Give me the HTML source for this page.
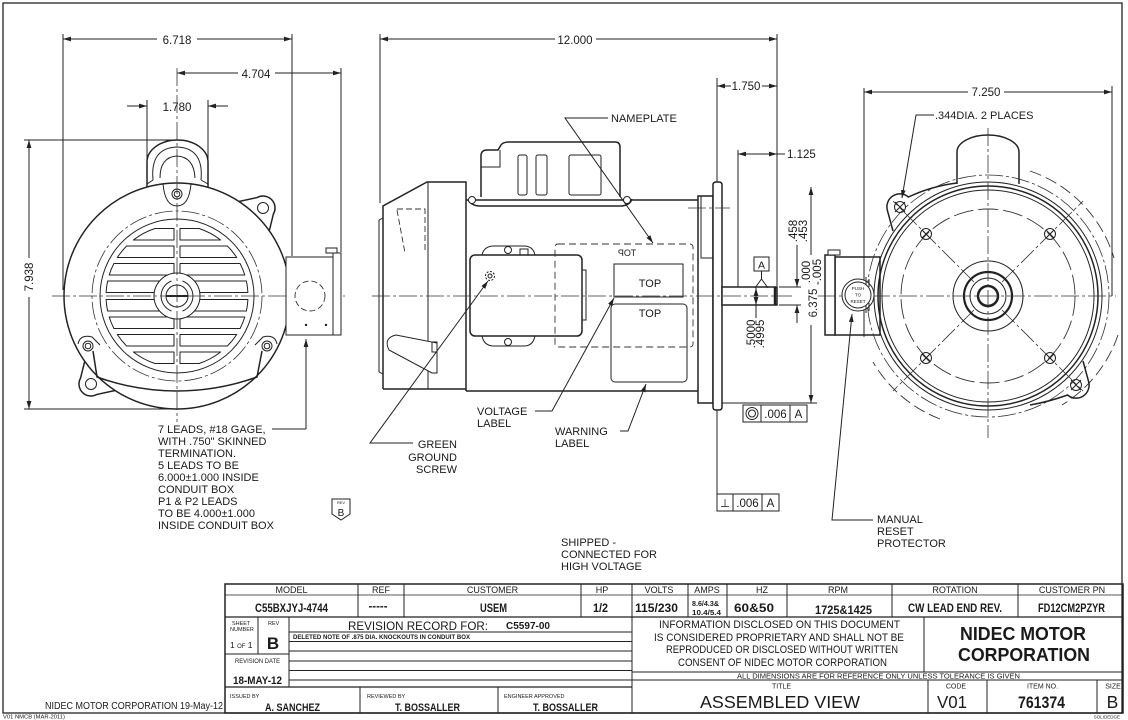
<!DOCTYPE html>
<html><head><meta charset="utf-8"><style>
html,body{margin:0;padding:0;background:#fff;}
svg{display:block;}
.l{stroke:#222;stroke-width:1;fill:none;}
.w{stroke:#222;stroke-width:1;fill:#fff;}
.t{stroke:#222;stroke-width:1.5;fill:none;}
.tw{stroke:#222;stroke-width:1.5;fill:#fff;}
.c{stroke:#333;stroke-width:0.8;fill:none;stroke-dasharray:18 3 3 3;}
.d{stroke:#333;stroke-width:0.9;fill:none;stroke-dasharray:6 3;}
text{font-family:"Liberation Sans",Arial,sans-serif;fill:#1a1a1a;}
.dt{font-size:11.5px;}
.lb{font-size:11px;}
.h{font-size:9px;text-anchor:middle;}
.v{font-size:11.5px;font-weight:bold;text-anchor:middle;}
.s{font-size:5.5px;}
</style></head><body>
<svg width="1128" height="720" viewBox="0 0 1128 720" xmlns="http://www.w3.org/2000/svg">
<defs>
<marker id="a" markerUnits="userSpaceOnUse" markerWidth="9" markerHeight="6" refX="8" refY="3" orient="auto-start-reverse"><path d="M0,0.6 L8,3 L0,5.4z" fill="#222"/></marker>
</defs>
<rect x="0" y="0" width="1128" height="720" fill="#fff"/>
<rect x="3" y="3" width="1119" height="710" fill="none" stroke="#222" stroke-width="1.3"/>

<!-- ================= LEFT VIEW ================= -->
<line class="l" x1="63" y1="34" x2="63" y2="290"/>
<line class="l" x1="292" y1="34" x2="292" y2="256"/>
<line class="l" x1="157" y1="39" x2="63" y2="39" marker-end="url(#a)"/>
<line class="l" x1="197" y1="39" x2="292" y2="39" marker-end="url(#a)"/>
<text class="dt" x="177" y="44" text-anchor="middle">6.718</text>
<line class="l" x1="341" y1="68" x2="341" y2="252"/>
<line class="l" x1="238" y1="73" x2="177" y2="73" marker-end="url(#a)"/>
<line class="l" x1="275" y1="73" x2="341" y2="73" marker-end="url(#a)"/>
<text class="dt" x="256" y="78" text-anchor="middle">4.704</text>
<line class="l" x1="147" y1="100" x2="147" y2="162"/>
<line class="l" x1="208" y1="100" x2="208" y2="162"/>
<line class="l" x1="127" y1="106" x2="147" y2="106" marker-end="url(#a)"/>
<line class="l" x1="228" y1="106" x2="208" y2="106" marker-end="url(#a)"/>
<text class="dt" x="177" y="111" text-anchor="middle">1.780</text>
<line class="l" x1="24" y1="140" x2="175" y2="140"/>
<line class="l" x1="24" y1="409" x2="175" y2="409"/>
<line class="l" x1="29" y1="258" x2="29" y2="140" marker-end="url(#a)"/>
<line class="l" x1="29" y1="297" x2="29" y2="409" marker-end="url(#a)"/>
<text class="dt" transform="translate(33,277) rotate(-90)" text-anchor="middle">7.938</text>

<path class="tw" d="M232 203 L257 197.6 A12 12 0 0 1 273.4 214 L268 236"/>
<path class="tw" d="M122 389 L97 394.4 A12 12 0 0 1 80.6 378 L86 356"/>
<path class="tw" d="M147 192 L147 162 A30.5 22 0 0 1 208 162 L208 192"/>
<circle class="tw" cx="177" cy="296" r="113"/>
<circle class="l" cx="263" cy="208" r="5.5"/>
<circle class="l" cx="91" cy="384" r="5.5"/>
<path class="l" d="M153 180 Q150 148 177 147 Q204 148 201 180"/>
<path class="l" d="M160 178 Q160 157 177 156 Q194 157 195 178"/>
<path class="l" d="M147 184 L153 180 M208 184 L201 180"/>
<path class="l" d="M163 184 Q165 206 177 206 Q189 206 191 184"/>
<circle class="l" cx="177" cy="194" r="5"/><circle class="l" cx="177" cy="194" r="2.8"/>
<circle class="l" cx="88" cy="346" r="5"/><circle class="l" cx="88" cy="346" r="2.8"/>
<circle class="l" cx="267" cy="346" r="5"/><circle class="l" cx="267" cy="346" r="2.8"/>
<path class="l" d="M78 344 Q80 334 92 337 L100 345"/>
<path class="l" d="M277 344 Q275 334 263 337 L255 345"/>
<path class="t" d="M93 351 L97 377 A236 236 0 0 0 257 377 L262 351"/>
<circle class="c" cx="177" cy="296" r="85"/>
<circle class="l" cx="177" cy="296" r="77"/>
<g class="l" stroke-linejoin="round">
<path d="M174 228.5 L155 228.5 A71 71 0 0 0 133.4 240 L174 240Z"/>
<path d="M174 246 L126.6 246 A71 71 0 0 0 117.3 257.5 L174 257.5Z"/>
<path d="M174 263.5 L113.9 263.5 A71 71 0 0 0 109.2 275 L174 275Z"/>
<path d="M174 281 L107.6 281 A71 71 0 0 0 106.1 292.5 L174 292.5Z"/>
<path d="M174 299.5 L106.1 299.5 A71 71 0 0 0 107.6 311 L174 311Z"/>
<path d="M174 317 L109.2 317 A71 71 0 0 0 113.9 328.5 L174 328.5Z"/>
<path d="M174 334.5 L117.3 334.5 A71 71 0 0 0 126.6 346 L174 346Z"/>
<path d="M174 352 L133.4 352 A71 71 0 0 0 155 363.5 L174 363.5Z"/>
<path d="M180 228.5 L199 228.5 A71 71 0 0 1 220.6 240 L180 240Z"/>
<path d="M180 246 L227.4 246 A71 71 0 0 1 236.7 257.5 L180 257.5Z"/>
<path d="M180 263.5 L240.1 263.5 A71 71 0 0 1 244.8 275 L180 275Z"/>
<path d="M180 281 L246.4 281 A71 71 0 0 1 247.9 292.5 L180 292.5Z"/>
<path d="M180 299.5 L247.9 299.5 A71 71 0 0 1 246.4 311 L180 311Z"/>
<path d="M180 317 L244.8 317 A71 71 0 0 1 240.1 328.5 L180 328.5Z"/>
<path d="M180 334.5 L236.7 334.5 A71 71 0 0 1 227.4 346 L180 346Z"/>
<path d="M180 352 L220.6 352 A71 71 0 0 1 199 363.5 L180 363.5Z"/>
</g>
<circle class="w" cx="177" cy="296" r="23"/>
<path class="l" d="M171.5 281 A16 16 0 0 0 171.5 311 M182.5 281 A16 16 0 0 1 182.5 311"/>
<circle class="l" cx="177" cy="296" r="11"/>
<line x1="166" y1="296" x2="188" y2="296" stroke="#222" stroke-width="2"/>
<line class="c" x1="52" y1="296" x2="345" y2="296"/>
<line class="c" x1="177" y1="68" x2="177" y2="422"/>
<rect class="w" x="286" y="257" width="47" height="78"/>
<rect class="w" x="333" y="253" width="8" height="82"/>
<rect class="w" x="326" y="248" width="11" height="5"/>
<circle class="d" cx="310" cy="296" r="15"/>
<circle cx="306" cy="325" r="1.2" fill="#222"/><circle cx="326" cy="325" r="1.2" fill="#222"/>
<line class="l" x1="306" y1="429" x2="306" y2="339" marker-end="url(#a)"/>
<line class="l" x1="272" y1="429" x2="306" y2="429"/>
<g class="lb">
<text x="158" y="433">7 LEADS, #18 GAGE,</text>
<text x="158" y="445">WITH .750" SKINNED</text>
<text x="158" y="457">TERMINATION.</text>
<text x="158" y="469">5 LEADS TO BE</text>
<text x="158" y="481">6.000±1.000 INSIDE</text>
<text x="158" y="493">CONDUIT BOX</text>
<text x="158" y="505">P1 &amp; P2 LEADS</text>
<text x="158" y="517">TO BE 4.000±1.000</text>
<text x="158" y="529">INSIDE CONDUIT BOX</text>
</g>
<path class="l" d="M332 499 L350 499 L350 514 L341 520 L332 514 Z"/>
<text x="341" y="504" font-size="4" text-anchor="middle">REV</text>
<text x="341" y="516" font-size="10" text-anchor="middle">B</text>

<!-- ================= MIDDLE VIEW ================= -->
<line class="l" x1="380" y1="34" x2="380" y2="203"/>
<line class="l" x1="777" y1="34" x2="777" y2="286"/>
<line class="l" x1="555" y1="39" x2="380" y2="39" marker-end="url(#a)"/>
<line class="l" x1="596" y1="39" x2="777" y2="39" marker-end="url(#a)"/>
<text class="dt" x="575" y="44" text-anchor="middle">12.000</text>

<path class="t" d="M383 389 L383 206 L427 182 L466 182 L466 391"/>
<path class="t" d="M383 389 L466 389"/>
<path class="l" d="M383 218 L379 220 L379 372 L383 374"/>
<line class="l" x1="428" y1="182" x2="428" y2="389"/>
<path class="d" d="M397 209 L425 209 L425 253 M397 210 L405 253"/>
<path class="w" d="M396 335 Q383 338 389 350 L432 373 L437 373 L437 343 Z"/>
<rect class="l" x="432" y="342" width="5" height="10"/>
<line class="t" x1="466" y1="200" x2="698" y2="200"/>
<line class="t" x1="466" y1="391" x2="698" y2="391"/>
<path class="t" d="M481 197 L481 156 Q481 150 487 150 L498 150 L501 145 Q503 142 509 142 L615 142 Q620 142 620 147 L620 197"/>
<path class="l" d="M481 167 L500 167 L500 150"/>
<rect class="l" x="518" y="155" width="9" height="40" rx="2"/>
<rect class="l" x="536" y="155" width="11" height="40" rx="2"/>
<rect class="l" x="569" y="155" width="32" height="40" rx="2"/>
<path class="t" d="M468 200 Q472 206 480 206 L622 206 Q630 205 632 199"/>
<circle class="w" cx="472" cy="200" r="3.5"/><circle class="w" cx="627" cy="200" r="3.5"/>
<path class="w" d="M482 255 Q484 246 494 246 L524 246 Q533 246 535 255"/>
<path class="w" d="M482 336 Q484 346 494 346 L524 346 Q533 346 535 336"/>
<rect class="tw" x="470" y="255" width="112" height="81" rx="5"/>
<circle class="w" cx="508" cy="250" r="3.5"/><circle class="w" cx="508" cy="342" r="3.5"/>
<rect class="l" x="520" y="249" width="8" height="6"/>
<rect class="l" x="582" y="270" width="4" height="50"/>
<circle class="l" cx="490" cy="276" r="4.5" stroke-dasharray="2 1.5"/><circle class="l" cx="490" cy="276" r="2"/>
<rect class="d" x="555" y="244" width="138" height="103" rx="3" style="stroke-dasharray:7 4"/>
<text transform="translate(627,256) scale(-1,1)" font-size="9" text-anchor="middle" font-family="Liberation Serif,serif">TOP</text>
<rect class="l" x="614" y="264" width="69" height="33"/>
<text class="lb" x="650" y="287" text-anchor="middle">TOP</text>
<rect class="l" x="611" y="304" width="76" height="78" rx="4"/>
<text class="lb" x="650" y="317" text-anchor="middle">TOP</text>
<rect class="tw" x="698" y="196" width="15" height="207"/>
<rect class="l" x="701" y="196" width="12" height="62"/>
<path class="tw" d="M713 185 Q713 182 716 182 L719 182 Q722 182 722 185 L722 407 Q722 410 719 410 L716 410 Q713 410 713 407 Z"/>
<line class="c" x1="688" y1="208" x2="730" y2="208"/>
<rect class="tw" x="722" y="287" width="55" height="18"/>
<line x1="775" y1="287" x2="775" y2="305" stroke="#222" stroke-width="2.5"/>
<line class="c" x1="372" y1="296" x2="792" y2="296"/>
<line class="l" x1="717" y1="78" x2="717" y2="182"/>
<line class="l" x1="717" y1="410" x2="717" y2="494"/>
<line class="l" x1="731" y1="86" x2="717" y2="86" marker-end="url(#a)"/>
<line class="l" x1="762" y1="86" x2="777" y2="86" marker-end="url(#a)"/>
<text class="dt" x="746" y="90" text-anchor="middle">1.750</text>
<line class="l" x1="738" y1="150" x2="738" y2="287"/>
<line class="l" x1="738" y1="154" x2="777" y2="154" marker-start="url(#a)" marker-end="url(#a)"/>
<line class="l" x1="777" y1="154" x2="785" y2="154"/>
<text class="dt" x="787" y="158">1.125</text>
<rect class="w" x="754" y="257" width="15" height="14"/>
<text x="761.5" y="268.5" font-size="10.5" text-anchor="middle">A</text>
<path class="l" d="M761.5 271 L761.5 279 M755 288 L761.5 279 L768 288"/>
<line class="l" x1="756" y1="318" x2="756" y2="288" marker-end="url(#a)"/>
<line class="l" x1="756" y1="296" x2="756" y2="305" marker-end="url(#a)"/>
<text class="dt" transform="translate(755,334) rotate(-90)" text-anchor="middle">.5000</text>
<text class="dt" transform="translate(764,334) rotate(-90)" text-anchor="middle">.4995</text>
<line class="l" x1="779" y1="287" x2="801" y2="287"/>
<line class="l" x1="779" y1="305" x2="801" y2="305"/>
<line class="l" x1="797" y1="245" x2="797" y2="287" marker-end="url(#a)"/>
<line class="l" x1="797" y1="323" x2="797" y2="305" marker-end="url(#a)"/>
<text class="dt" transform="translate(797,231) rotate(-90)" text-anchor="middle">.458</text>
<text class="dt" transform="translate(807,231) rotate(-90)" text-anchor="middle">.453</text>
<line class="l" x1="811" y1="255" x2="811" y2="187" marker-end="url(#a)"/>
<line class="l" x1="811" y1="325" x2="811" y2="403" marker-end="url(#a)"/>
<line class="l" x1="722" y1="403" x2="817" y2="403"/>
<text class="dt" transform="translate(810,272) rotate(-90)" text-anchor="middle">.000</text>
<text class="dt" transform="translate(821,272) rotate(-90)" text-anchor="middle">-.005</text>
<text class="dt" transform="translate(817,303) rotate(-90)" text-anchor="middle">6.375</text>
<rect class="l" x="743" y="405" width="64" height="17"/>
<line class="l" x1="761" y1="405" x2="761" y2="422"/><line class="l" x1="790" y1="405" x2="790" y2="422"/>
<circle class="l" cx="752" cy="413.5" r="6"/><circle class="l" cx="752" cy="413.5" r="3.5"/>
<text class="dt" x="775.5" y="418" text-anchor="middle">.006</text>
<text class="dt" x="798.5" y="418" text-anchor="middle">A</text>
<rect class="l" x="717" y="494" width="62" height="17"/>
<line class="l" x1="733" y1="494" x2="733" y2="511"/><line class="l" x1="762" y1="494" x2="762" y2="511"/>
<text class="dt" x="725" y="507" text-anchor="middle">⊥</text>
<text class="dt" x="747.5" y="507" text-anchor="middle">.006</text>
<text class="dt" x="770.5" y="507" text-anchor="middle">A</text>
<path class="l" d="M608 118 L565 118 L653 243" marker-end="url(#a)"/>
<text class="lb" x="611" y="122">NAMEPLATE</text>
<path class="l" d="M535 411 L552 411 Q580 360 614 298" marker-end="url(#a)"/>
<text class="lb" x="477" y="415">VOLTAGE</text><text class="lb" x="477" y="427">LABEL</text>
<path class="l" d="M620 431 L628 431 L646 384" marker-end="url(#a)"/>
<text class="lb" x="555" y="435">WARNING</text><text class="lb" x="555" y="447">LABEL</text>
<path class="l" d="M413 443 L370 443 L488 281" marker-end="url(#a)"/>
<text class="lb" x="457" y="448" text-anchor="end">GREEN</text>
<text class="lb" x="457" y="461" text-anchor="end">GROUND</text>
<text class="lb" x="457" y="473" text-anchor="end">SCREW</text>
<text class="lb" x="561" y="546">SHIPPED -</text>
<text class="lb" x="561" y="558">CONNECTED FOR</text>
<text class="lb" x="561" y="570">HIGH VOLTAGE</text>

<!-- ================= RIGHT VIEW ================= -->
<line class="l" x1="1112" y1="86" x2="1112" y2="296"/>
<line class="l" x1="968" y1="92" x2="864" y2="92" marker-end="url(#a)"/>
<line class="l" x1="1004" y1="92" x2="1112" y2="92" marker-end="url(#a)"/>
<text class="dt" x="986" y="96" text-anchor="middle">7.250</text>
<!-- conduit box right (behind circles) -->
<rect class="tw" x="835" y="257" width="45" height="78"/>
<rect class="tw" x="825" y="255" width="10" height="80"/>
<rect class="w" x="828" y="250" width="12" height="5"/>
<line class="l" x1="864" y1="88" x2="864" y2="337"/>
<!-- outer hidden arcs -->
<path class="d" d="M1030 171 A132 132 0 0 1 1114 258" style="stroke-dasharray:12 5"/>
<path class="d" d="M1118 335 A132 132 0 0 1 1062 405" style="stroke-dasharray:12 5"/>
<path class="d" d="M940 419 A132 132 0 0 1 873 362" style="stroke-dasharray:12 5"/>
<circle class="c" cx="988" cy="296" r="121"/>
<!-- ears + hump -->
<path class="t" d="M957 183 Q932 186 908.4 197 A13 13 0 0 0 887.4 210.4 L893 231"/>
<path class="t" d="M1030 405 Q1048 402 1067.6 395 A13 13 0 0 0 1088.6 381.6 L1083 361"/>
<path class="t" d="M957 184 L957 152 A31 17 0 0 1 1019 152 L1019 184"/>
<circle class="l" cx="988" cy="296" r="114"/>
<circle class="t" cx="988" cy="296" r="110"/>
<circle class="l" cx="988" cy="296" r="106"/>
<circle class="l" cx="900" cy="207" r="5.5"/>
<circle class="l" cx="1076" cy="385" r="5.5"/>
<path class="l" d="M895 202 L905 212 M905 202 L895 212 M1071 380 L1081 390 M1081 380 L1071 390"/>
<circle class="d" cx="988" cy="296" r="87" style="stroke-dasharray:20 5"/>
<line class="c" x1="974" y1="282" x2="893" y2="201"/>
<line class="c" x1="1002" y1="282" x2="1083" y2="201"/>
<line class="c" x1="974" y1="310" x2="893" y2="391"/>
<line class="c" x1="1002" y1="310" x2="1083" y2="391"/>
<g class="l">
<circle cx="926" cy="234" r="5.5"/><circle cx="1050" cy="234" r="5.5"/>
<circle cx="926" cy="358" r="5.5"/><circle cx="1050" cy="358" r="5.5"/>
<path d="M922 230 L930 238 M930 230 L922 238 M1046 230 L1054 238 M1054 230 L1046 238 M922 354 L930 362 M930 354 L922 362 M1046 354 L1054 362 M1054 354 L1046 362"/>
</g>
<circle class="l" cx="988" cy="296" r="35"/>
<circle cx="988" cy="296" r="24" fill="none" stroke="#222" stroke-width="2.2"/>
<circle class="l" cx="988" cy="296" r="18"/>
<circle cx="988" cy="296" r="10" fill="none" stroke="#222" stroke-width="2.5"/>
<line class="c" x1="818" y1="296" x2="1116" y2="296"/>
<line class="c" x1="988" y1="128" x2="988" y2="438"/>
<circle class="w" cx="858" cy="295" r="16"/>
<circle class="l" cx="858" cy="295" r="13"/>
<path class="l" d="M866 277 L866 285 M869 279 L869 287 M866 305 L866 313 M869 303 L869 311"/>
<text x="858" y="290" font-size="4.5" text-anchor="middle">PUSH</text>
<text x="858" y="296.5" font-size="4.5" text-anchor="middle">TO</text>
<text x="858" y="303" font-size="4.5" text-anchor="middle">RESET</text>
<path class="l" d="M873 520 L832 520 L852 314" marker-end="url(#a)"/>
<text class="lb" x="877" y="523">MANUAL</text>
<text class="lb" x="877" y="535">RESET</text>
<text class="lb" x="877" y="547">PROTECTOR</text>
<path class="l" d="M934 115 L916 115 L902 198" marker-end="url(#a)"/>
<text class="lb" x="935" y="119">.344DIA. 2 PLACES</text>

<!-- ================= TITLE BLOCK ================= -->
<g stroke="#222" fill="none">
<rect x="225" y="584" width="898" height="129" stroke-width="1.5"/>
<line x1="225" y1="595" x2="1123" y2="595" stroke-width="0.8"/>
<line x1="225" y1="617" x2="1123" y2="617" stroke-width="1.3"/>
<g stroke-width="1">
<line x1="358" y1="584" x2="358" y2="617"/><line x1="404" y1="584" x2="404" y2="617"/>
<line x1="581" y1="584" x2="581" y2="617"/><line x1="632" y1="584" x2="632" y2="713"/>
<line x1="688" y1="584" x2="688" y2="617"/><line x1="727" y1="584" x2="727" y2="617"/>
<line x1="787" y1="584" x2="787" y2="617"/><line x1="892" y1="584" x2="892" y2="617"/>
<line x1="1018" y1="584" x2="1018" y2="617"/>
<line x1="258" y1="617" x2="258" y2="654"/><line x1="289" y1="617" x2="289" y2="687"/>
<line x1="225" y1="654" x2="289" y2="654"/>
<line x1="289" y1="632" x2="632" y2="632"/><line x1="289" y1="641.5" x2="632" y2="641.5"/>
<line x1="289" y1="651" x2="632" y2="651"/><line x1="289" y1="661" x2="632" y2="661"/>
<line x1="289" y1="670.5" x2="632" y2="670.5"/><line x1="289" y1="680" x2="632" y2="680"/>
<line x1="360" y1="687" x2="360" y2="713"/><line x1="498" y1="687" x2="498" y2="713"/>
<line x1="924" y1="617" x2="924" y2="672"/>
<line x1="632" y1="672" x2="1123" y2="672"/><line x1="632" y1="680" x2="1123" y2="680"/>
<line x1="928" y1="680" x2="928" y2="713"/><line x1="987" y1="680" x2="987" y2="713"/>
<line x1="1097" y1="680" x2="1097" y2="713"/>
</g>
<line x1="225" y1="687" x2="632" y2="687" stroke-width="1.3"/>
</g>
<text class="h" x="291.5" y="593">MODEL</text>
<text class="h" x="381" y="593">REF</text>
<text class="h" x="492.5" y="593">CUSTOMER</text>
<text class="h" x="602" y="593">HP</text>
<text class="h" x="659" y="593">VOLTS</text>
<text class="h" x="707" y="593">AMPS</text>
<text class="h" x="762" y="593">HZ</text>
<text class="h" x="838" y="593">RPM</text>
<text class="h" x="955" y="593">ROTATION</text>
<text class="h" x="1072" y="593">CUSTOMER PN</text>
<text class="v" x="291.5" y="612" textLength="73" lengthAdjust="spacingAndGlyphs">C55BXJYJ-4744</text>
<text class="v" x="378" y="610" textLength="19" lengthAdjust="spacingAndGlyphs">-----</text>
<text class="v" x="493.5" y="612" textLength="27" lengthAdjust="spacingAndGlyphs">USEM</text>
<text class="v" x="600.5" y="612" textLength="15" lengthAdjust="spacingAndGlyphs">1/2</text>
<text class="v" x="656.5" y="612" textLength="43" lengthAdjust="spacingAndGlyphs">115/230</text>
<text x="692" y="606" font-size="7.5" font-weight="bold" textLength="27" lengthAdjust="spacingAndGlyphs">8.6/4.3&amp;</text>
<text x="692" y="615" font-size="7.5" font-weight="bold" textLength="29" lengthAdjust="spacingAndGlyphs">10.4/5.4</text>
<text class="v" x="754" y="612" textLength="40" lengthAdjust="spacingAndGlyphs">60&amp;50</text>
<text class="v" x="843.5" y="614" textLength="57" lengthAdjust="spacingAndGlyphs">1725&amp;1425</text>
<text class="v" x="955" y="612" textLength="94" lengthAdjust="spacingAndGlyphs">CW LEAD END REV.</text>
<text class="v" x="1071.5" y="612" textLength="67" lengthAdjust="spacingAndGlyphs">FD12CM2PZYR</text>
<text class="s" x="232" y="625">SHEET</text>
<text class="s" x="230" y="631">NUMBER</text>
<text class="s" x="268" y="625">REV</text>
<text x="230" y="648" font-size="8.5">1 <tspan font-size="6">OF</tspan> 1</text>
<text x="273" y="649" font-size="17" font-weight="bold" text-anchor="middle">B</text>
<text x="235" y="663" font-size="6" textLength="45" lengthAdjust="spacingAndGlyphs">REVISION DATE</text>
<text x="257.5" y="684" font-size="11" font-weight="bold" text-anchor="middle" textLength="49" lengthAdjust="spacingAndGlyphs">18-MAY-12</text>
<text x="348" y="630" font-size="11.5" textLength="140" lengthAdjust="spacingAndGlyphs">REVISION RECORD FOR:</text>
<text x="506" y="629" font-size="10" font-weight="bold" textLength="44" lengthAdjust="spacingAndGlyphs">C5597-00</text>
<text x="293" y="639" font-size="6.5" font-weight="bold" textLength="177" lengthAdjust="spacingAndGlyphs">DELETED NOTE OF .875 DIA. KNOCKOUTS IN CONDUIT BOX</text>
<text class="s" x="230" y="698">ISSUED BY</text>
<text x="292.5" y="711" font-size="11" font-weight="bold" text-anchor="middle" textLength="55" lengthAdjust="spacingAndGlyphs">A. SANCHEZ</text>
<text class="s" x="367" y="698">REVIEWED BY</text>
<text x="427.5" y="711" font-size="11" font-weight="bold" text-anchor="middle" textLength="65" lengthAdjust="spacingAndGlyphs">T. BOSSALLER</text>
<text class="s" x="504" y="698">ENGINEER APPROVED</text>
<text x="565.5" y="711" font-size="11" font-weight="bold" text-anchor="middle" textLength="65" lengthAdjust="spacingAndGlyphs">T. BOSSALLER</text>
<text x="779.5" y="628" font-size="11" text-anchor="middle" textLength="241" lengthAdjust="spacingAndGlyphs">INFORMATION DISCLOSED ON THIS DOCUMENT</text>
<text x="779" y="641" font-size="11" text-anchor="middle" textLength="250" lengthAdjust="spacingAndGlyphs">IS CONSIDERED PROPRIETARY AND SHALL NOT BE</text>
<text x="782" y="653" font-size="11" text-anchor="middle" textLength="232" lengthAdjust="spacingAndGlyphs">REPRODUCED OR DISCLOSED WITHOUT WRITTEN</text>
<text x="782.5" y="666" font-size="11" text-anchor="middle" textLength="209" lengthAdjust="spacingAndGlyphs">CONSENT OF NIDEC MOTOR CORPORATION</text>
<text x="1023" y="640" font-size="18" font-weight="bold" text-anchor="middle" textLength="126" lengthAdjust="spacingAndGlyphs">NIDEC MOTOR</text>
<text x="1024" y="661" font-size="18" font-weight="bold" text-anchor="middle" textLength="132" lengthAdjust="spacingAndGlyphs">CORPORATION</text>
<text x="878.5" y="678.5" font-size="7.5" text-anchor="middle" textLength="283" lengthAdjust="spacingAndGlyphs">ALL DIMENSIONS ARE FOR REFERENCE ONLY UNLESS TOLERANCE IS GIVEN</text>
<text x="781.5" y="688.5" font-size="7" text-anchor="middle">TITLE</text>
<text x="780" y="708" font-size="17.5" text-anchor="middle" textLength="160" lengthAdjust="spacingAndGlyphs">ASSEMBLED VIEW</text>
<text x="956" y="688.5" font-size="7" text-anchor="middle">CODE</text>
<text x="952" y="708" font-size="17.5" text-anchor="middle" textLength="30" lengthAdjust="spacingAndGlyphs">V01</text>
<text x="1042.5" y="688.5" font-size="7" text-anchor="middle">ITEM NO.</text>
<text x="1041.5" y="708" font-size="17" font-weight="bold" text-anchor="middle" textLength="47" lengthAdjust="spacingAndGlyphs">761374</text>
<text x="1113" y="688.5" font-size="7" text-anchor="middle">SIZE</text>
<text x="1112.5" y="708" font-size="17.5" text-anchor="middle">B</text>
<text x="223" y="709" font-size="10" text-anchor="end" textLength="178" lengthAdjust="spacingAndGlyphs">NIDEC MOTOR CORPORATION 19-May-12</text>
<text x="3" y="718.5" font-size="5" textLength="62" lengthAdjust="spacingAndGlyphs">V01 NMCB (MAR-2011)</text>
<text x="1120" y="718.5" font-size="4.5" text-anchor="end">SOLIDEDGE</text>
</svg>
</body></html>
